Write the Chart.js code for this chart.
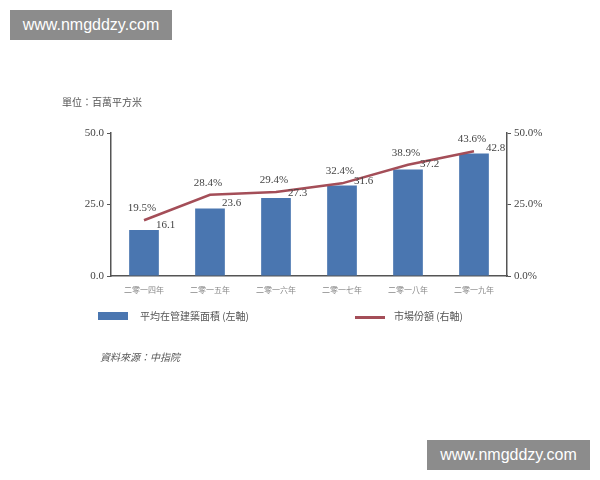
<!DOCTYPE html>
<html>
<head>
<meta charset="utf-8">
<script src="https://cdn.jsdelivr.net/npm/chart.js@4"></script>
<style>
  body { margin: 0; background: #fff; }
  #wrap { position: relative; width: 600px; height: 480px; overflow: hidden; }
  #c { position: absolute; left: 0; top: 0; }
  .txt { position: absolute; color: #555; font-family: "Noto Sans CJK TC", serif; white-space: nowrap; }
  .wm { position: absolute; background: #8c8c8c; color: #fff; font-family: "Liberation Sans", Arial, sans-serif;
        font-size: 16px; line-height: 30px; text-align: center; }
  .sw { position: absolute; }
</style>
</head>
<body>
<div id="wrap">
  <canvas id="c" width="600" height="480"></canvas>
  <div class="wm" style="left:10px;top:10px;width:162px;height:30px;">www.nmgddzy.com</div>
  <div class="wm" style="left:427px;top:440px;width:163px;height:30px;">www.nmgddzy.com</div>
  <div class="txt" style="left:62px;top:94px;font-size:10px;">單位：百萬平方米</div>
  <div class="sw" style="left:98px;top:312px;width:30px;height:8px;background:#4a76b0;"></div>
  <div class="txt" style="left:140px;top:308px;font-size:10px;">平均在管建築面積 (左軸)</div>
  <div class="sw" style="left:355px;top:316px;width:30px;height:3px;background:#a44e58;"></div>
  <div class="txt" style="left:394px;top:308px;font-size:10px;">市場份額 (右軸)</div>
  <div class="txt" style="left:100px;top:349px;font-size:10px;font-style:italic;">資料來源：中指院</div>
</div>
<script>
// data
const years = ['二零一四年', '二零一五年', '二零一六年', '二零一七年', '二零一八年', '二零一九年'];
const area = [16.1, 23.6, 27.3, 31.6, 37.2, 42.8];
const share = [19.5, 28.4, 29.4, 32.4, 38.9, 43.6];

const barColor = '#4a76b0';
const lineColor = '#a44e58';
const axisColor = '#555';

// labels on bars and line points
const valueLabels = {
  id: 'valueLabels',
  afterDatasetsDraw(chart) {
    const ctx = chart.ctx;
    ctx.save();
    ctx.font = '11px "Liberation Serif", serif';
    ctx.fillStyle = '#444';
    ctx.textBaseline = 'middle';
    ctx.textAlign = 'left';
    chart.getDatasetMeta(1).data.forEach((bar, i) => {
      ctx.fillText(area[i].toFixed(1), bar.x + 12, bar.y - 5);
    });
    ctx.textAlign = 'center';
    chart.getDatasetMeta(0).data.forEach((pt, i) => {
      ctx.fillText(share[i].toFixed(1) + '%', pt.x - 2, pt.y - 12);
    });
    ctx.restore();
  }
};

new Chart(document.getElementById('c'), {
  data: {
    labels: years,
    datasets: [
      {
        type: 'line',
        label: '市場份額 (右軸)',
        data: share,
        yAxisID: 'y1',
        borderColor: lineColor,
        borderWidth: 2.5,
        pointRadius: 0,
        tension: 0,
        order: 0
      },
      {
        type: 'bar',
        label: '平均在管建築面積 (左軸)',
        data: area,
        yAxisID: 'y',
        backgroundColor: barColor,
        barPercentage: 0.9,
        categoryPercentage: 0.5,
        order: 1
      }
    ]
  },
  options: {
    responsive: false,
    animation: false,
    layout: { padding: { left: 0, right: 0, top: 133, bottom: 0 } },
    plugins: { legend: { display: false }, tooltip: { enabled: false } },
    scales: {
      x: {
        grid: { display: false, drawTicks: false },
        border: { color: axisColor, width: 1.5 },
        ticks: { color: '#888', font: { family: '"Noto Sans CJK TC"', size: 8 }, padding: 9 },
        afterFit(s) { s.height = 204; }
      },
      y: {
        position: 'left',
        min: 0, max: 50,
        grid: { drawOnChartArea: false, tickLength: 4, color: axisColor },
        border: { color: axisColor, width: 1.5 },
        ticks: {
          stepSize: 25, color: '#444', padding: 3,
          font: { family: '"Liberation Serif", serif', size: 11 },
          callback: v => v.toFixed(1)
        },
        afterFit(s) { s.width = 111; }
      },
      y1: {
        position: 'right',
        min: 0, max: 50,
        grid: { drawOnChartArea: false, tickLength: 4, color: axisColor },
        border: { color: axisColor, width: 1.5 },
        ticks: {
          stepSize: 25, color: '#444', padding: 3,
          font: { family: '"Liberation Serif", serif', size: 11 },
          callback: v => v.toFixed(1) + '%'
        },
        afterFit(s) { s.width = 93; }
      }
    }
  },
  plugins: [valueLabels]
});
</script>
</body>
</html>
